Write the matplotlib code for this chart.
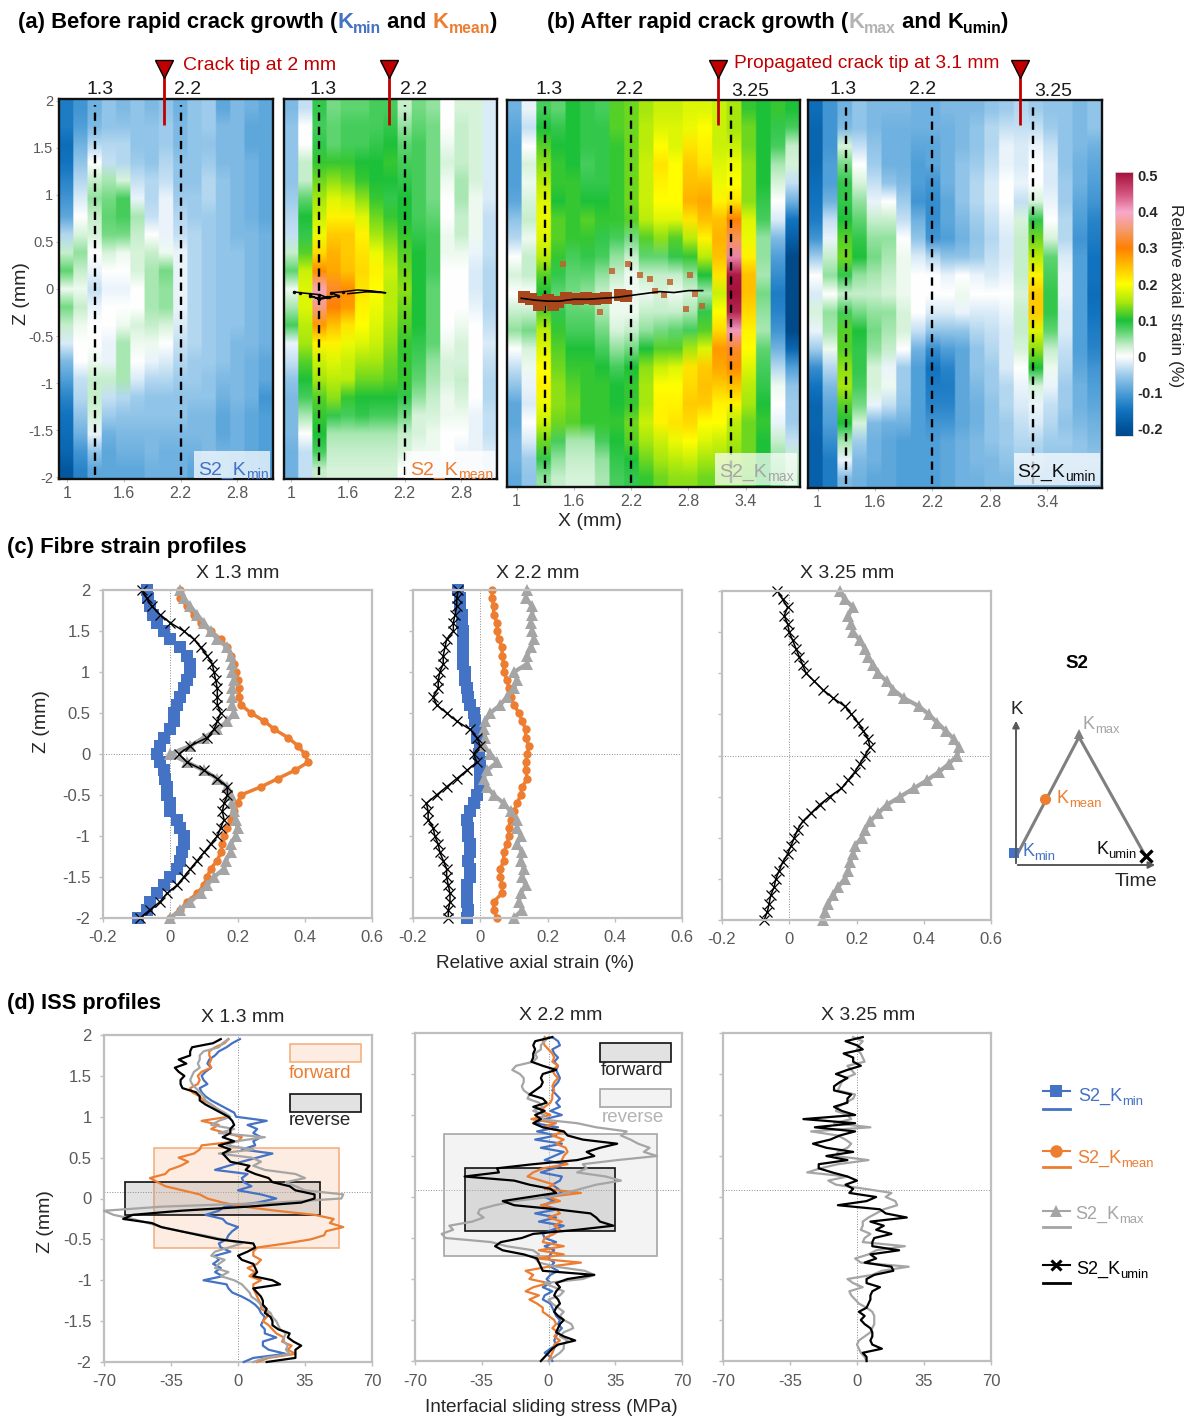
import numpy as np
import matplotlib
matplotlib.use('Agg')
from matplotlib import pyplot as plt
from matplotlib.colors import LinearSegmentedColormap
from matplotlib.patches import Rectangle

plt.rcParams['font.family'] = ['Liberation Sans', 'DejaVu Sans']

W, H = 1192, 1418
BLUE, ORANGE, GREY, BLACK = '#4472c4', '#ed7d31', '#a5a5a5', '#000000'
RED = '#c00000'
TICK = '#595959'

# strain maps, values in 0.01 %, rows run from Z = 2 to Z = -2
map_kmin = [
    [-14,-11,-8,-6,-7,-6,-7,-6,-8,-6,-5,-9,-7,-8,-9],
    [-14,-10,-7,-6,-6,-6,-6,-5,-7,-6,-5,-7,-7,-9,-9],
    [-16,-8,-4,-4,-4,-6,-6,-5,-7,-6,-6,-7,-7,-9,-9],
    [-15,-6,0,-3,-4,-5,-6,-4,-6,-6,-5,-7,-7,-8,-9],
    [-13,-4,3,4,2,-3,-4,-3,-6,-6,-4,-6,-7,-8,-9],
    [-11,-2,5,6,8,-1,-4,-1,-5,-5,-4,-6,-7,-8,-9],
    [-9,0,3,7,8,4,-3,-1,-4,-5,-5,-6,-7,-8,-9],
    [-4,2,2,6,6,3,0,-1,-3,-4,-5,-6,-7,-7,-8],
    [3,5,0,2,1,2,3,1,-1,-4,-5,-6,-6,-7,-8],
    [7,3,-1,0,0,2,4,6,-1,-4,-5,-6,-6,-7,-8],
    [1,1,-3,-1,-1,0,4,5,-1,-4,-5,-6,-6,-7,-8],
    [6,3,-1,0,0,0,4,5,-1,-4,-5,-6,-6,-7,-8],
    [3,1,0,0,1,2,3,2,-2,-4,-5,-6,-6,-7,-8],
    [-2,0,0,-1,4,1,1,0,-3,-4,-5,-6,-7,-7,-8],
    [-7,0,1,-1,4,0,-1,-2,-4,-5,-5,-6,-7,-8,-9],
    [-10,-3,3,3,4,-2,-4,-4,-5,-5,-6,-7,-7,-8,-9],
    [-13,-4,3,-3,-4,-5,-6,-6,-6,-6,-6,-8,-7,-8,-11],
    [-15,-6,2,-5,-6,-6,-6,-6,-6,-7,-7,-9,-8,-9,-10],
    [-16,-8,-1,-8,-7,-7,-7,-7,-7,-7,-7,-9,-8,-9,-10],
    [-17,-11,-6,-9,-8,-8,-7,-8,-8,-8,-7,-8,-8,-9,-10],
    [-19,-13,-9,-9,-9,-9,-8,-8,-8,-9,-8,-8,-9,-9,-10],
]
map_kmean = [
    [-7,-3,9,6,7,7,8,8,3,6,5,0,2,2,-2],
    [-6,0,8,7,8,8,8,9,5,7,6,0,3,2,-2],
    [-6,0,9,7,8,8,9,10,7,8,6,1,3,2,-2],
    [-6,3,11,11,11,10,10,11,8,8,6,2,3,2,-2],
    [-6,3,13,14,13,11,10,10,9,8,6,1,4,2,-2],
    [-5,7,15,18,17,14,11,9,10,8,6,0,4,1,-2],
    [-4,10,17,21,21,18,13,11,10,8,7,0,3,1,-3],
    [-3,9,19,24,24,21,15,13,11,9,8,1,3,1,-3],
    [3,12,23,26,24,22,19,15,12,10,8,1,1,-1,-3],
    [7,17,29,27,25,23,21,17,13,10,8,0,0,-2,-4],
    [1,18,39,32,29,22,20,16,14,10,7,0,0,-2,-4],
    [4,18,36,30,28,21,19,16,13,10,7,0,0,-1,-4],
    [8,16,28,25,22,20,18,15,12,10,7,0,1,0,-3],
    [-1,15,21,21,19,18,17,14,11,9,7,1,2,0,-2],
    [-3,12,17,18,17,15,15,13,11,8,5,2,2,0,-3],
    [-6,10,15,16,16,13,13,12,11,7,4,2,3,0,-4],
    [-7,8,12,14,11,10,10,10,9,5,3,1,2,0,-4],
    [-7,4,11,9,8,9,8,8,6,2,2,1,1,-1,-3],
    [-7,0,10,4,4,4,4,4,3,2,1,0,0,-1,-3],
    [-8,-3,8,3,3,3,3,3,2,1,1,0,-1,-1,-2],
    [-8,-3,3,2,2,2,2,2,0,0,-1,-1,-1,-1,-2],
]
map_kmax = [
    [-8,-1,8,7,10,9,8,12,13,15,17,17,18,18,17,15,11,10,11,10],
    [-9,-3,10,9,10,9,9,12,13,16,18,18,19,20,17,15,13,10,9,8],
    [-10,0,12,10,10,9,9,11,13,16,20,18,22,21,17,17,13,10,8,3],
    [-10,2,14,11,10,8,9,11,13,17,22,20,24,22,18,19,14,10,4,2],
    [-10,1,16,11,11,9,9,11,13,17,21,20,25,25,19,20,14,10,2,-3],
    [-9,2,18,10,11,10,10,11,13,17,20,20,26,27,21,22,14,9,0,-8],
    [-6,3,19,12,11,12,11,11,12,16,18,18,22,25,25,30,18,8,-2,-15],
    [-4,1,18,12,11,11,9,8,6,12,14,12,16,21,26,34,19,5,-7,-18],
    [0,3,16,11,8,9,8,5,3,7,7,9,11,16,25,42,21,5,-10,-22],
    [2,3,12,9,7,7,5,3,1,3,3,3,5,10,22,50,25,4,-12,-25],
    [0,0,10,7,6,5,3,1,1,1,2,1,2,4,17,52,25,6,-14,-28],
    [3,3,12,9,7,7,4,1,1,3,3,3,4,9,20,49,23,5,-13,-25],
    [5,6,16,11,8,8,6,2,3,5,6,7,8,12,23,41,21,4,-11,-22],
    [0,2,18,12,10,10,8,5,6,10,12,12,15,18,28,32,20,7,-8,-17],
    [-3,1,20,13,11,11,10,8,10,14,17,18,22,24,27,29,18,8,-4,-10],
    [-6,-1,21,14,12,11,11,10,11,15,20,20,23,25,24,25,16,9,1,-6],
    [-9,-2,19,14,13,11,11,10,11,15,21,21,24,24,21,21,15,10,0,-5],
    [-9,0,17,13,12,11,11,11,13,17,21,22,23,20,20,16,13,11,-1,-5],
    [-8,-2,13,8,4,4,8,10,12,15,17,19,20,18,17,15,13,10,3,-3],
    [-8,-5,9,5,3,3,5,9,10,13,15,16,17,15,15,14,13,10,5,3],
    [-9,-6,5,3,2,2,4,8,9,11,13,14,14,13,13,13,12,10,6,4],
]
map_kumin = [
    [-16,-11,-8,-6,-7,-7,-7,-8,-8,-7,-7,-7,-6,-5,-4,-5,-6,-6,-7,-6],
    [-17,-11,-7,-6,-7,-8,-8,-8,-8,-8,-7,-6,-4,-3,-3,-3,-5,-6,-7,-6],
    [-17,-11,2,-3,-6,-8,-8,-9,-9,-8,-7,-6,-4,-1,-2,-1,-3,-6,-7,-8],
    [-17,-10,6,0,-5,-8,-8,-10,-9,-8,-6,-5,-3,-1,-2,0,-2,-6,-8,-9],
    [-16,-10,9,2,-3,-6,-7,-10,-11,-8,-6,-4,-2,0,-1,0,-2,-5,-8,-10],
    [-15,-8,9,5,-1,0,-5,-11,-12,-9,-6,-4,-2,0,-3,2,-1,-5,-9,-11],
    [-14,-3,10,7,3,3,-3,-8,-12,-9,-7,-5,-3,-1,2,9,0,-4,-10,-13],
    [-11,-1,12,9,5,5,0,-6,-11,-10,-8,-6,-4,-2,3,13,2,-4,-11,-14],
    [-5,3,13,10,6,4,1,-2,-4,-6,-6,-5,-3,-2,3,16,7,-2,-10,-15],
    [0,5,9,5,4,3,1,0,0,-1,0,-1,-2,-1,3,21,8,-1,-10,-15],
    [-2,0,3,3,3,2,1,0,0,0,1,0,0,0,2,24,9,-1,-10,-16],
    [2,5,8,6,5,5,2,0,-2,-2,-1,-2,-2,-1,3,24,9,-2,-10,-15],
    [-1,4,12,10,6,4,2,-3,-6,-6,-6,-4,-3,-2,3,18,7,-2,-10,-14],
    [-5,1,12,9,5,3,0,-8,-12,-10,-9,-6,-4,-2,2,14,3,-3,-10,-13],
    [-12,-4,14,9,2,-1,-5,-10,-15,-13,-9,-6,-5,-2,0,10,1,-4,-9,-11],
    [-15,-7,15,8,2,1,-5,-10,-14,-14,-9,-7,-5,-4,-1,2,-1,-5,-8,-10],
    [-17,-9,12,6,-1,-3,-6,-10,-13,-13,-9,-8,-6,-4,-2,-1,-3,-5,-8,-9],
    [-17,-10,10,2,-7,-8,-8,-10,-11,-11,-9,-8,-6,-5,-3,-2,-4,-6,-7,-8],
    [-18,-12,4,-5,-8,-9,-10,-10,-10,-9,-8,-7,-6,-5,-4,-4,-5,-5,-6,-7],
    [-18,-14,-1,-7,-8,-9,-10,-10,-10,-9,-8,-7,-7,-6,-5,-5,-6,-6,-6,-6],
    [-18,-14,-7,-8,-9,-9,-10,-10,-10,-9,-8,-8,-7,-7,-7,-7,-7,-7,-7,-7],
]

# crack traces on the maps
crack_mean_x = [1.03,1.1,1.2,1.3,1.38,1.28,1.2,1.3,1.4,1.5,1.42,1.55,1.7,1.85,2.0,1.8,1.6]
crack_mean_z = [-.03,-.04,-.05,-.06,-.09,-.1,-.07,-.11,-.09,-.07,-.04,-.03,-.01,-.02,-.04,-.03,-.05]
crack_max_x = [1.05,1.2,1.33,1.45,1.6,1.75,1.9,2.05,2.2,2.35,2.5,2.65,2.8,2.95]
crack_max_z = [-.05,-.07,-.08,-.08,-.06,-.06,-.05,-.04,-.02,.0,.02,.01,.03,.03]
brown_x = [1.08,1.15,1.24,1.33,1.43,1.52,1.64,1.73,1.82,1.94,2.08,2.15,1.24,1.38,1.49,2.0,2.17,2.29,2.4,2.61,2.82,2.45,2.54,2.87,1.87,2.78,2.94]
brown_z = [-.04,-.06,-.09,-.07,-.09,-.05,-.06,-.05,-.06,-.05,-.02,-.03,-.12,-.12,.31,.24,.31,.19,.15,.12,.19,.03,-.02,-.01,-.19,-.16,-.13]

# fibre strain, Z = 2 to -2 in steps of 0.1
c1_min = [-.07,-.065,-.06,-.05,-.04,-.02,0,.03,.05,.06,.06,.05,.04,.03,.02,.01,.01,0,-.02,-.03,-.04,-.03,-.02,-.015,-.01,-.01,0,0,.02,.03,.04,.04,.035,.03,.02,0,-.02,-.04,-.06,-.07,-.095]
c1_umin = [-.085,-.07,-.055,-.03,0,.04,.07,.09,.11,.125,.13,.135,.14,.14,.14,.15,.14,.13,.11,.06,.025,.05,.1,.14,.17,.17,.16,.155,.16,.15,.14,.12,.1,.08,.06,.04,.02,-.01,-.03,-.06,-.09]
c1_max = [.03,.04,.06,.08,.1,.12,.14,.17,.18,.185,.185,.19,.185,.185,.185,.19,.17,.14,.1,.06,0,.05,.1,.14,.17,.18,.185,.19,.195,.2,.195,.18,.18,.165,.16,.13,.11,.09,.06,.03,0]
c1_mean = [.03,.03,.05,.07,.09,.12,.15,.17,.18,.19,.195,.2,.205,.205,.21,.24,.28,.31,.35,.38,.4,.41,.37,.32,.27,.21,.2,.19,.18,.17,.16,.155,.15,.14,.12,.11,.1,.08,.05,.03,0]
c2_min = [-.065,-.06,-.06,-.055,-.055,-.05,-.05,-.05,-.05,-.05,-.045,-.045,-.04,-.035,-.03,-.02,-.015,-.01,-.01,0,-.005,0,0,0,0,-.01,-.02,-.03,-.04,-.035,-.035,-.03,-.03,-.035,-.03,-.03,-.04,-.04,-.04,-.035,-.04]
c2_umin = [-.065,-.07,-.07,-.075,-.08,-.08,-.1,-.105,-.11,-.11,-.12,-.125,-.125,-.14,-.13,-.1,-.07,-.03,-.01,0,-.02,-.01,-.04,-.07,-.1,-.13,-.16,-.155,-.155,-.14,-.135,-.125,-.12,-.11,-.1,-.1,-.095,-.09,-.09,-.095,-.095]
c2_max = [.14,.135,.155,.155,.15,.155,.16,.15,.14,.14,.1,.11,.1,.08,.06,.03,.015,.01,.015,.01,.03,.05,.02,.01,.02,.04,.07,.09,.11,.11,.12,.11,.125,.12,.13,.125,.135,.12,.115,.125,.1]
c2_mean = [.035,.035,.04,.04,.05,.05,.055,.065,.065,.07,.07,.08,.085,.09,.1,.115,.125,.135,.135,.145,.14,.135,.135,.14,.125,.12,.11,.1,.09,.085,.085,.08,.07,.07,.06,.06,.065,.065,.04,.04,.05]
c3_umin = [-.035,-.02,-.005,-.015,-.005,0,.01,.02,.03,.04,.05,.075,.1,.13,.165,.185,.205,.22,.235,.24,.225,.21,.195,.175,.155,.12,.09,.065,.04,.025,.015,.005,-.005,-.02,-.03,-.04,-.045,-.055,-.06,-.065,-.075]
c3_max = [.15,.165,.19,.175,.185,.19,.21,.225,.235,.25,.265,.29,.31,.34,.385,.415,.44,.465,.49,.505,.5,.475,.445,.41,.37,.33,.29,.265,.24,.225,.215,.195,.19,.18,.175,.165,.145,.13,.115,.105,.1]

# interfacial sliding stress, Z = 1.95 to -2 in steps of 0.05
d1_min = [1,-3,-6,-10,-12,-15,-16,-14,-17,-19,-18,-16,-20,-19,-17,-14,-10,-6,-2,-1,15,5,10,8,12,8,9,2,18,10,2,-5,-12,5,2,3,7,0,12,20,10,-7,-10,-17,-8,-6,0,-3,-5,-6,-10,-9,-4,-12,-10,-13,-9,-12,-8,-18,-6,-5,-3,2,6,9,11,12,14,13,12,14,14,20,13,13,16,25,8,3]
d1_mean = [-5,-7,-12,-15,-15,-14,-15,-14,-19,-21,-20,-21,-25,-24,-20,-18,-14,-11,-8,-5,-19,-10,-14,-6,2,0,-19,-20,-23,-31,-26,-30,-36,-38,-46,-42,-38,-29,-20,-16,-8,3,20,40,50,48,55,46,45,38,25,10,8,8,12,10,5,9,6,12,8,8,9,10,11,12,12,16,15,13,16,18,20,24,23,28,26,30,16,10]
d1_max = [-5,-8,-10,-18,-20,-20,-21,-20,-23,-24,-25,-24,-22,-20,-18,-17,-14,-11,-7,-4,-10,-14,-2,-10,14,-1,-6,8,-10,7,12,8,14,30,35,25,30,35,55,54,20,-40,-70,-65,-55,-47,-40,-30,-18,-8,2,-5,-12,-14,-7,-10,-12,-5,-9,-2,2,4,6,7,10,12,14,17,18,20,21,22,25,24,24,26,25,27,14,8]
d1_umin = [-9,-13,-24,-25,-25,-31,-27,-33,-31,-28,-30,-30,-29,-22,-20,-20,-17,-13,-9,-5,-3,-2,-4,-4,-8,-2,-10,-4,-8,-6,-4,6,4,9,16,18,27,30,40,40,33,5,-30,-55,-60,-45,-40,-30,-20,-10,8,9,5,0,2,8,9,10,8,18,22,8,10,12,13,13,15,14,17,18,18,21,27,26,29,33,30,30,30,15]
d2_min = [2,5,6,2,3,5,3,5,4,5,6,5,3,2,4,6,4,6,1,7,-2,-7,5,-6,4,-7,7,-4,8,3,-2,8,3,-4,7,6,2,5,7,-2,3,-3,5,-7,4,-5,8,2,-3,-2,4,-2,3,1,0,3,1,5,1,-1,1,-3,2,-2,-3,1,2,3,4,6,5,7,5,4,3,4,1,-2,1,2]
d2_mean = [-2,-3,-2,0,2,3,2,5,2,3,5,3,2,3,2,2,1,-2,-4,1,-9,4,-3,8,2,8,4,9,10,8,7,10,-3,-8,-11,-4,3,-2,17,0,6,-4,4,6,0,7,3,6,3,-2,-3,8,-5,8,-6,17,0,-12,-8,-10,0,-8,-12,-5,-10,-6,-3,-3,0,3,4,2,5,3,6,3,3,2,1,0]
d2_max = [0,-2,-4,-4,-7,-6,-8,-17,-19,-15,-13,-13,-14,-13,-10,-11,-5,-3,-8,-2,-5,15,25,41,38,43,47,53,50,57,36,18,20,15,30,38,25,17,9,0,-18,-28,-36,-37,-34,-40,-52,-50,-56,-54,-30,-22,-8,-5,-7,-5,4,19,24,18,-2,3,8,6,0,2,5,8,6,8,12,13,8,6,10,8,8,6,3,0]
d2_umin = [2,-7,-8,-7,-8,-8,-9,-3,4,-3,-4,-3,-4,-7,-10,-3,-1,-8,-2,-7,-4,-8,-3,8,10,18,36,27,20,24,15,-8,-27,-26,-44,-18,-10,1,4,-10,-24,-18,4,22,25,27,34,15,-8,-14,-25,-28,-24,-13,-6,-5,-4,-3,24,10,4,6,4,3,5,6,4,3,5,8,6,5,4,8,14,5,2,0,-2,-4]
d3_max = [-2,3,1,0,2,3,4,-5,-3,-1,-6,-8,-9,-10,-1,-2,-6,-10,-11,-5,-3,-12,7,-24,-10,-6,-3,-5,-10,-11,6,-10,-19,-26,-5,-15,-11,4,18,15,20,21,14,10,6,3,3,2,7,4,3,25,10,6,-1,2,27,13,8,-5,-2,3,-4,-3,-1,1,5,8,9,9,9,8,7,4,1,0,1,2,4,5]
d3_umin = [3,-6,0,3,-7,-2,-2,2,-5,-11,-5,-9,-12,-12,-3,-5,-5,-12,-8,-1,-28,-1,-22,-1,-9,-14,-23,-16,-2,-16,-5,-20,-20,-13,-5,0,-6,-2,-4,10,5,-10,12,15,26,7,14,10,18,9,8,8,22,7,10,4,18,19,9,5,5,12,8,7,7,6,5,1,4,2,4,7,8,8,7,8,13,3,5,5]

map_x_ticks = [1, 1.6, 2.2, 2.8]
map_x_ticks_long = [1, 1.6, 2.2, 2.8, 3.4]
z_ticks = [2, 1.5, 1, 0.5, 0, -0.5, -1, -1.5, -2]
strain_ticks = [-0.2, 0, 0.2, 0.4, 0.6]
iss_ticks = [-70, -35, 0, 35, 70]
cbar_ticks = [0.5, 0.4, 0.3, 0.2, 0.1, 0, -0.1, -0.2]

VMIN, VMAX = -0.22, 0.51
colour_stops = [(-0.22, '#004a8a'), (-0.2, '#00539a'), (-0.15, '#1274c0'), (-0.1, '#4f9fd8'), (-0.05, '#a0cdec'),
                (0.0, '#ffffff'), (0.03, '#c4eeca'), (0.07, '#5cd46e'), (0.1, '#1cc03a'), (0.15, '#a8e80e'),
                (0.2, '#ffff00'), (0.25, '#ffc000'), (0.3, '#ff8000'), (0.35, '#f59a6a'), (0.4, '#f9a8cc'),
                (0.45, '#d4567f'), (0.51, '#a5103c')]
strain_cmap = LinearSegmentedColormap.from_list(
    'strain', [((v - VMIN) / (VMAX - VMIN), c) for v, c in colour_stops])


def fmt(v):
    return ('%g' % v)


def add_ax(x0, y0, x1, y1):
    return fig.add_axes([x0 / W, 1 - y1 / H, (x1 - x0) / W, (y1 - y0) / H])


def strain_map(box, data, x_range, ticks, zlabels=False):
    ax = add_ax(*box)
    arr = np.array(data) / 100.0
    # repeating the columns keeps them sharp while imshow smooths along Z only
    ax.imshow(np.repeat(arr, 10, axis=1), cmap=strain_cmap, vmin=VMIN, vmax=VMAX, aspect='auto',
              interpolation='bilinear', extent=(x_range[0], x_range[1], -2.02, 2.02))
    ax.set_xlim(x_range)
    ax.set_ylim(-2.02, 2.02)
    ax.set_xticks(ticks, [fmt(t) for t in ticks])
    ax.tick_params(axis='x', length=2, width=0.8, labelsize=11.5, labelcolor=TICK, color='#bfbfbf', pad=3)
    if zlabels:
        ax.set_yticks(z_ticks, [fmt(t) for t in z_ticks])
        ax.tick_params(axis='y', length=2, width=0.8, labelsize=10.5, labelcolor=TICK, color='#bfbfbf', pad=2)
    else:
        ax.set_yticks([])
    for s in ax.spines.values():
        s.set_linewidth(1.7)
        s.set_color('#111111')
    return ax


def style_profile(ax, xticks, xlim, ylabels):
    ax.set_xlim(xlim)
    ax.set_ylim(-2, 2)
    ax.set_xticks(xticks, [fmt(t) for t in xticks])
    if ylabels:
        ax.set_yticks(z_ticks, [fmt(t) for t in z_ticks])
    else:
        ax.set_yticks(z_ticks, [''] * len(z_ticks))
    ax.tick_params(length=3, width=1, color='#bfbfbf', labelsize=12, labelcolor=TICK, pad=6)
    for s in ax.spines.values():
        s.set_linewidth(1.6)
        s.set_color('#bfbfbf')
    ax.axvline(0, color='#8c8c8c', lw=0.7, ls=':', zorder=1)


def strain_panel(box, series, ylabels=False):
    ax = add_ax(*box)
    style_profile(ax, strain_ticks, (-0.2, 0.6), ylabels)
    ax.axhline(0, color='#8c8c8c', lw=0.7, ls=':', zorder=1)
    for vals, color, marker, ms, lw in series:
        z = np.linspace(2, -2, len(vals))
        if marker == 'x':
            ax.plot(vals, z, color=color, lw=lw, marker='x', ms=ms, mew=0.9, clip_on=False)
        else:
            ax.plot(vals, z, color=color, lw=lw, marker=marker, ms=ms, mew=0, clip_on=False)
    return ax


def iss_panel(box, series, ylabels=False):
    ax = add_ax(*box)
    style_profile(ax, iss_ticks, (-70, 70), ylabels)
    ax.axhline(0.08, color='#8c8c8c', lw=0.7, ls=':', zorder=1)
    for vals, color in series:
        ax.plot(vals, np.linspace(1.95, -2, len(vals)), color=color, lw=1.6, zorder=3, clip_on=False)
    return ax


def box(ax, x0, x1, z0, z1, face, edge, lw=1.2, alpha=0.3):
    ax.add_patch(Rectangle((x0, z0), x1 - x0, z1 - z0, facecolor=matplotlib.colors.to_rgba(face, alpha),
                           edgecolor=edge, lw=lw, zorder=2))


fig = plt.figure(figsize=(W / 100, H / 100), dpi=100)

# maps
h1 = strain_map((59, 99, 273, 479), map_kmin, (0.916, 3.175), map_x_ticks, zlabels=True)
h2 = strain_map((284, 99, 497, 479), map_kmean, (0.926, 3.175), map_x_ticks)
h3 = strain_map((507, 100, 800, 487), map_kmax, (0.90, 3.97), map_x_ticks_long)
h4 = strain_map((808, 100, 1102, 488), map_kumin, (0.90, 3.97), map_x_ticks_long)
for ax, xs in ((h1, [1.3, 2.2]), (h2, [1.3, 2.2]), (h3, [1.3, 2.2, 3.25]), (h4, [1.3, 2.2, 3.25])):
    for xv in xs:
        ax.plot([xv, xv], [-1.98, 1.96], color='black', lw=1.7, ls=(0, (3.5, 2.5)))
h2.plot(crack_mean_x, crack_mean_z, color='black', lw=1.1)
h2.plot(crack_mean_x[:12], crack_mean_z[:12], ls='none', marker='o', ms=2.5, mew=0, color='black')
h3.plot(brown_x, brown_z, ls='none', marker='s', ms=5, mew=0, color='#c0622e', alpha=0.85)
h3.plot(brown_x[:14], brown_z[:14], ls='none', marker='s', ms=8, mew=0, color='#a8481c')
h3.plot(crack_max_x, crack_max_z, color='black', lw=1.2)

# colour bar
cb = add_ax(1115, 172, 1133, 436)
cb.imshow(np.linspace(VMAX, VMIN, 256).reshape(-1, 1), aspect='auto', cmap=strain_cmap, vmin=VMIN, vmax=VMAX,
          extent=(0, 1, VMIN, VMAX))
cb.set_xticks([])
cb.yaxis.tick_right()
cb.set_yticks(cbar_ticks, [fmt(t) for t in cbar_ticks])
cb.tick_params(axis='y', length=0, labelsize=10.5, labelcolor='#262626', pad=3)
for s in cb.spines.values():
    s.set_linewidth(0.6)
    s.set_color('#d9d9d9')
for lab in cb.get_yticklabels():
    lab.set_fontweight('bold')

# profiles
strain_panel((103, 590, 372, 918), [
    (c1_min, BLUE, 's', 8, 3.5), (c1_mean, ORANGE, 'o', 6, 2.5),
    (c1_max, GREY, '^', 8, 3), (c1_umin, BLACK, 'x', 7, 1.1)], ylabels=True)
strain_panel((413, 590, 682, 918), [
    (c2_min, BLUE, 's', 8, 3.5), (c2_mean, ORANGE, 'o', 6, 2.5),
    (c2_max, GREY, '^', 8, 3), (c2_umin, BLACK, 'x', 7, 1.1)])
strain_panel((722, 591, 991, 920), [(c3_max, GREY, '^', 8, 3), (c3_umin, BLACK, 'x', 7, 1.1)])

d1 = iss_panel((104, 1035, 372, 1362), [
    (d1_min, BLUE), (d1_mean, ORANGE), (d1_max, GREY), (d1_umin, BLACK)], ylabels=True)
d2 = iss_panel((415, 1033, 682, 1361), [
    (d2_min, BLUE), (d2_mean, ORANGE), (d2_max, GREY), (d2_umin, BLACK)])
iss_panel((723, 1033, 991, 1361), [(d3_max, GREY), (d3_umin, BLACK)])

box(d1, -44, 53, -0.6, 0.615, '#f7c9a9', '#f4b183', alpha=0.35)
box(d1, -59, 43, -0.2, 0.2, '#8c8c8c', '#111111', alpha=0.25)
box(d1, 27, 64, 1.67, 1.89, '#f7c9a9', '#f4b183', alpha=0.35)
box(d1, 27, 64, 1.06, 1.28, '#8c8c8c', '#111111', alpha=0.25)
d1.text(43, 1.53, 'forward', color=ORANGE, fontsize=13.5, ha='center', va='center')
d1.text(43, 0.96, 'reverse', color='#262626', fontsize=13.5, ha='center', va='center')
box(d2, -55, 57, -0.72, 0.77, '#d9d9d9', '#a6a6a6')
box(d2, -44, 35, -0.41, 0.35, '#8c8c8c', '#111111', alpha=0.25)
box(d2, 27, 64, 1.65, 1.88, '#8c8c8c', '#111111', alpha=0.25)
box(d2, 27, 64, 1.1, 1.32, '#d9d9d9', '#a6a6a6')
d2.text(44, 1.54, 'forward', color='#262626', fontsize=13.5, ha='center', va='center')
d2.text(44, 0.97, 'reverse', color='#b3b3b3', fontsize=13.5, ha='center', va='center')

# everything placed by pixel goes on a full figure overlay
ov = fig.add_axes([0, 0, 1, 1], facecolor='none')
ov.set_xlim(0, W)
ov.set_ylim(H, 0)
ov.axis('off')


def rich(x, y, parts, size, weight='normal'):
    rend = fig.canvas.get_renderer()
    cur = x
    for s, color, sub in parts:
        fs = size * 0.72 if sub else size
        yy = y + size * 0.32 if sub else y
        t = ov.text(cur, yy, s, color=color, fontsize=fs, fontweight=weight, ha='left', va='baseline')
        cur += t.get_window_extent(rend).width


def s2_label(x, y, name, color, size=13.5):
    rich(x, y, [('S2_K', color, False), (name, color, True)], size)


# section titles
rich(18, 28, [('(a) Before rapid crack growth (', 'black', False), ('K', BLUE, False), ('min', BLUE, True),
              (' and ', 'black', False), ('K', ORANGE, False), ('mean', ORANGE, True), (')', 'black', False)], 15.8, 'bold')
rich(547, 28, [('(b) After rapid crack growth (', 'black', False), ('K', '#b3b3b3', False), ('max', '#b3b3b3', True),
               (' and ', 'black', False), ('K', 'black', False), ('umin', 'black', True), (')', 'black', False)], 15.8, 'bold')
ov.text(7, 553, '(c) Fibre strain profiles', fontsize=15.9, fontweight='bold', va='baseline')
ov.text(7, 1009, '(d) ISS profiles', fontsize=15.7, fontweight='bold', va='baseline')

# crack tip markers and section positions
for xp in (164, 389, 718, 1020):
    ov.plot([xp, xp], [66, 125], color=RED, lw=2, solid_capstyle='butt')
    ov.plot([xp], [69], marker='v', ms=13, color=RED, mec='black', mew=1)
ov.text(260, 65, 'Crack tip at 2 mm', color=RED, fontsize=14, ha='center', va='center')
ov.text(867, 63, 'Propagated crack tip at 3.1 mm', color=RED, fontsize=13.8, ha='center', va='center')
for xp, yp, s in ((100, 89, '1.3'), (188, 89, '2.2'), (323, 89, '1.3'), (414, 89, '2.2'),
                  (549, 89, '1.3'), (630, 89, '2.2'), (750, 92, '3.25'),
                  (843, 89, '1.3'), (923, 89, '2.2'), (1053, 91, '3.25')):
    ov.text(xp, yp, s, fontsize=14, ha='center', va='center', color='#1a1a1a')

# map labels
for x0, y0, x1, y1 in ((194, 451, 270, 478), (405, 451, 495, 478), (715, 453, 797, 485), (1014, 453, 1100, 485)):
    ov.add_patch(Rectangle((x0, y0), x1 - x0, y1 - y0, facecolor=(1, 1, 1, 0.72), edgecolor='none'))
s2_label(198, 475, 'min', BLUE, 14)
s2_label(410, 475, 'mean', ORANGE, 14)
s2_label(719, 477, 'max', '#a5a5a5', 14)
s2_label(1017, 477, 'umin', '#111111', 14)

# axis labels
ov.text(21, 294, 'Z (mm)', fontsize=14, rotation=90, ha='center', va='center', color='#262626')
ov.text(590, 521, 'X (mm)', fontsize=14, ha='center', va='center', color='#262626')
ov.text(1176, 296, 'Relative axial strain (%)', fontsize=12.5, rotation=270, ha='center', va='center', color='#262626')
ov.text(42, 722, 'Z (mm)', fontsize=14, rotation=90, ha='center', va='center', color='#262626')
ov.text(535, 963, 'Relative axial strain (%)', fontsize=13.7, ha='center', va='center', color='#262626')
ov.text(46, 1222, 'Z (mm)', fontsize=14, rotation=90, ha='center', va='center', color='#262626')
ov.text(551, 1408, 'Interfacial sliding stress (MPa)', fontsize=13.7, ha='center', va='center', color='#262626')
for xp, yp, s in ((238, 573, 'X 1.3 mm'), (538, 573, 'X 2.2 mm'), (847, 573, 'X 3.25 mm'),
                  (243, 1018, 'X 1.3 mm'), (561, 1016, 'X 2.2 mm'), (868, 1016, 'X 3.25 mm')):
    ov.text(xp, yp, s, fontsize=14, ha='center', va='center', color='#262626')

# loading schematic
ov.text(1077, 664, 'S2', fontsize=13.5, fontweight='bold', ha='center', va='center')
ov.annotate('', xy=(1016, 718), xytext=(1016, 866), arrowprops=dict(arrowstyle='-|>', color='#595959', lw=1.4))
ov.annotate('', xy=(1158, 865), xytext=(1015, 865), arrowprops=dict(arrowstyle='-|>', color='#595959', lw=1.4))
ov.plot([1017, 1079, 1146], [855, 737, 857], color='#7f7f7f', lw=2.2)
ov.plot([1079], [734], marker='^', ms=7, color='#7f7f7f', mew=0)
ov.plot([1014], [853], marker='s', ms=7, color=BLUE, mew=0)
ov.plot([1045], [799], marker='o', ms=8, color=ORANGE, mew=0)
ov.plot([1146], [856], marker='x', ms=8, color='black', mew=2.4)
ov.text(1017, 710, 'K', fontsize=13.5, ha='center', va='center', color='#262626')
ov.text(1136, 882, 'Time', fontsize=14, ha='center', va='center', color='#262626')
rich(1083, 729, [('K', '#a5a5a5', False), ('max', '#a5a5a5', True)], 13)
rich(1057, 803, [('K', ORANGE, False), ('mean', ORANGE, True)], 13)
rich(1022, 856, [('K', BLUE, False), ('min', BLUE, True)], 13)
rich(1096, 854, [('K', '#111111', False), ('umin', '#111111', True)], 13)

# legend
for yp, yl, c, m, name, tx, ty in ((1091, 1109, BLUE, 's', 'min', 1078, 1101),
                                   (1151, 1167, ORANGE, 'o', 'mean', 1077, 1163),
                                   (1211, 1227, GREY, '^', 'max', 1075, 1219),
                                   (1265, 1283, BLACK, 'x', 'umin', 1076, 1274)):
    ov.plot([1043, 1070], [yp, yp], color=c, lw=1.5)
    ov.plot([1056], [yp], marker=m, ms=9 if m != 'x' else 7, color=c, mew=2.2 if m == 'x' else 0)
    ov.plot([1043, 1070], [yl, yl], color=c, lw=2)
    s2_label(tx, ty, name, c if c != GREY else '#a5a5a5', 13)

fig.savefig('out.png', dpi=100)
